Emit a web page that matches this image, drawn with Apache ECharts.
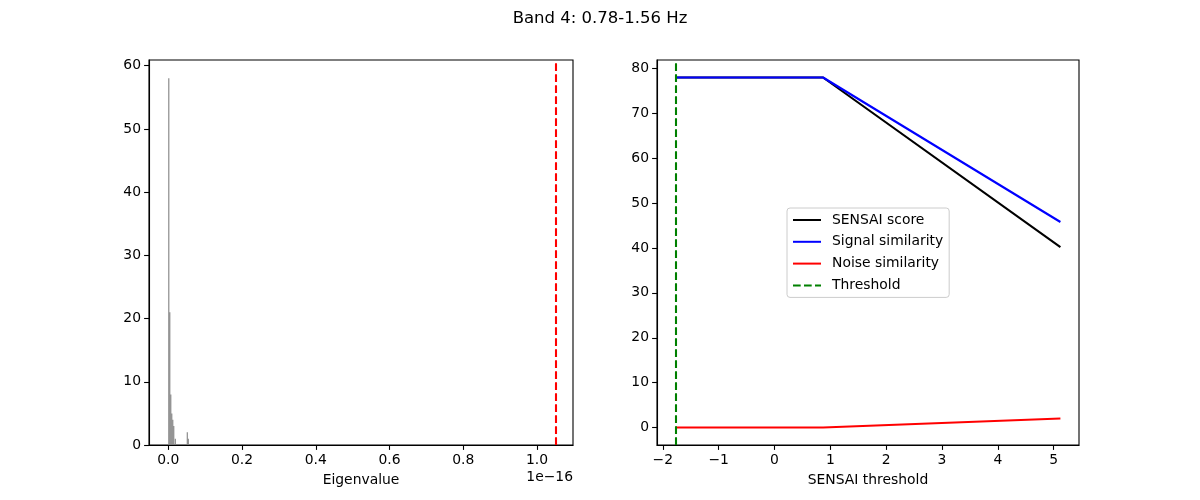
<!DOCTYPE html>
<html>
<head>
<meta charset="utf-8">
<script src="https://cdn.jsdelivr.net/npm/echarts@6/dist/echarts.min.js"></script>
<style>
html,body{margin:0;padding:0;background:#fff;}
#chart{width:1200px;height:500px;}
</style>
</head>
<body>
<div id="chart"></div>
<script>
// ---- Data ----
const titleText = "Band 4: 0.78-1.56 Hz";
// Left: eigenvalue histogram (x in units of 1e-16)
const histBins = [0.0014, 0.0041, 0.0068, 0.0095, 0.0122, 0.0149, 0.0190, 0.0515, 0.0542];
const histCounts = [58, 21, 8, 5, 4, 3, 1, 2, 1];
const eigThreshold = 1.050;
const leftXTicks = [0.0, 0.2, 0.4, 0.6, 0.8, 1.0];
const leftYTicks = [0, 10, 20, 30, 40, 50, 60];
// Right: SENSAI curves
const thresholds = [-1.77, 0.87, 5.12];
const sensaiScore = [78, 78, 40.2];
const signalSim = [78, 78, 45.8];
const noiseSim = [0, 0, 2.0];
const sensaiThreshold = -1.77;
const rightXTicks = [-2, -1, 0, 1, 2, 3, 4, 5];
const rightYTicks = [0, 10, 20, 30, 40, 50, 60, 70, 80];

const FONT = "DejaVu Sans";
const FS = 13.9;
const LW = 2.08;
const DASH = [7.7, 3.3];
const fmtMinus = v => String(v).replace('-', '\u2212');

function axisCommon(ticks, fmt) {
  return {
    axisLine: {show: true, onZero: false, lineStyle: {color: '#000', width: 1.1}},
    axisTick: {show: true, inside: false, length: 4.9, lineStyle: {color: '#000', width: 1.1}, customValues: ticks},
    axisLabel: {show: true, color: '#000', fontFamily: FONT, fontSize: FS, margin: 8, customValues: ticks, formatter: fmt},
    splitLine: {show: false}
  };
}

const chart = echarts.init(document.getElementById('chart'), null, {renderer: 'canvas'});
const option = {
  animation: false,
  backgroundColor: '#fff',
  title: {
    text: titleText, left: 'center', top: 5,
    textStyle: {fontFamily: FONT, fontSize: 16.5, fontWeight: 'normal', color: '#000'}
  },
  grid: [
    {left: 149, top: 60, width: 424, height: 385, show: true, borderColor: '#000', borderWidth: 1.1, backgroundColor: 'transparent'},
    {left: 657, top: 60, width: 422, height: 385, show: true, borderColor: '#000', borderWidth: 1.1, backgroundColor: 'transparent'}
  ],
  xAxis: [
    Object.assign({type: 'value', gridIndex: 0, min: -0.0523, max: 1.0974,
      name: 'Eigenvalue', nameLocation: 'middle', nameGap: 28,
      nameTextStyle: {fontFamily: FONT, fontSize: FS, color: '#000'}},
      axisCommon(leftXTicks, v => v.toFixed(1))),
    Object.assign({type: 'value', gridIndex: 1, min: -2.104, max: 5.453,
      name: 'SENSAI threshold', nameLocation: 'middle', nameGap: 28,
      nameTextStyle: {fontFamily: FONT, fontSize: FS, color: '#000'}},
      axisCommon(rightXTicks, v => fmtMinus(Math.round(v))))
  ],
  yAxis: [
    Object.assign({type: 'value', gridIndex: 0, min: 0, max: 60.9}, axisCommon(leftYTicks, v => String(Math.round(v)))),
    Object.assign({type: 'value', gridIndex: 1, min: -3.9, max: 81.9}, axisCommon(rightYTicks, v => String(Math.round(v))))
  ],
  legend: {
    orient: 'vertical', left: 787, top: 208,
    itemWidth: 28, itemHeight: 2, itemGap: 7.8,
    padding: [5, 6, 5, 5],
    borderColor: '#cccccc', borderWidth: 1, borderRadius: 3,
    backgroundColor: 'rgba(255,255,255,0.8)',
    itemStyle: {opacity: 0},
    textStyle: {fontFamily: FONT, fontSize: FS, color: '#000', padding: [0, 0, 0, 6]},
    data: ['SENSAI score', 'Signal similarity', 'Noise similarity', 'Threshold']
  },
  graphic: [
    {type: 'text', right: 1200 - 573, top: 470,
      style: {text: '1e\u221216', font: FS + 'px "DejaVu Sans"', fill: '#000'}}
  ],
  series: [
    {
      type: 'bar', xAxisIndex: 0, yAxisIndex: 0, name: 'hist',
      barWidth: 1.1, itemStyle: {color: '#808080'},
      data: histBins.map((b, i) => [b, histCounts[i]]),
      markLine: {
        silent: true, symbol: 'none', label: {show: false},
        lineStyle: {color: '#ff0000', type: DASH, width: LW},
        data: [{xAxis: eigThreshold}]
      }
    },
    {
      type: 'line', name: 'SENSAI score', xAxisIndex: 1, yAxisIndex: 1, symbol: 'none',
      lineStyle: {color: '#000000', width: LW}, itemStyle: {color: '#000000'},
      data: thresholds.map((t, i) => [t, sensaiScore[i]])
    },
    {
      type: 'line', name: 'Signal similarity', xAxisIndex: 1, yAxisIndex: 1, symbol: 'none',
      lineStyle: {color: '#0000ff', width: LW}, itemStyle: {color: '#0000ff'},
      data: thresholds.map((t, i) => [t, signalSim[i]])
    },
    {
      type: 'line', name: 'Noise similarity', xAxisIndex: 1, yAxisIndex: 1, symbol: 'none',
      lineStyle: {color: '#ff0000', width: LW}, itemStyle: {color: '#ff0000'},
      data: thresholds.map((t, i) => [t, noiseSim[i]])
    },
    {
      type: 'line', name: 'Threshold', xAxisIndex: 1, yAxisIndex: 1, symbol: 'none',
      lineStyle: {color: '#008000', width: LW, type: DASH}, itemStyle: {color: '#008000'},
      data: [],
      markLine: {
        silent: true, symbol: 'none', label: {show: false},
        lineStyle: {color: '#008000', type: DASH, width: LW},
        data: [{xAxis: sensaiThreshold}]
      }
    }
  ]
};
chart.setOption(option);
</script>
</body>
</html>
